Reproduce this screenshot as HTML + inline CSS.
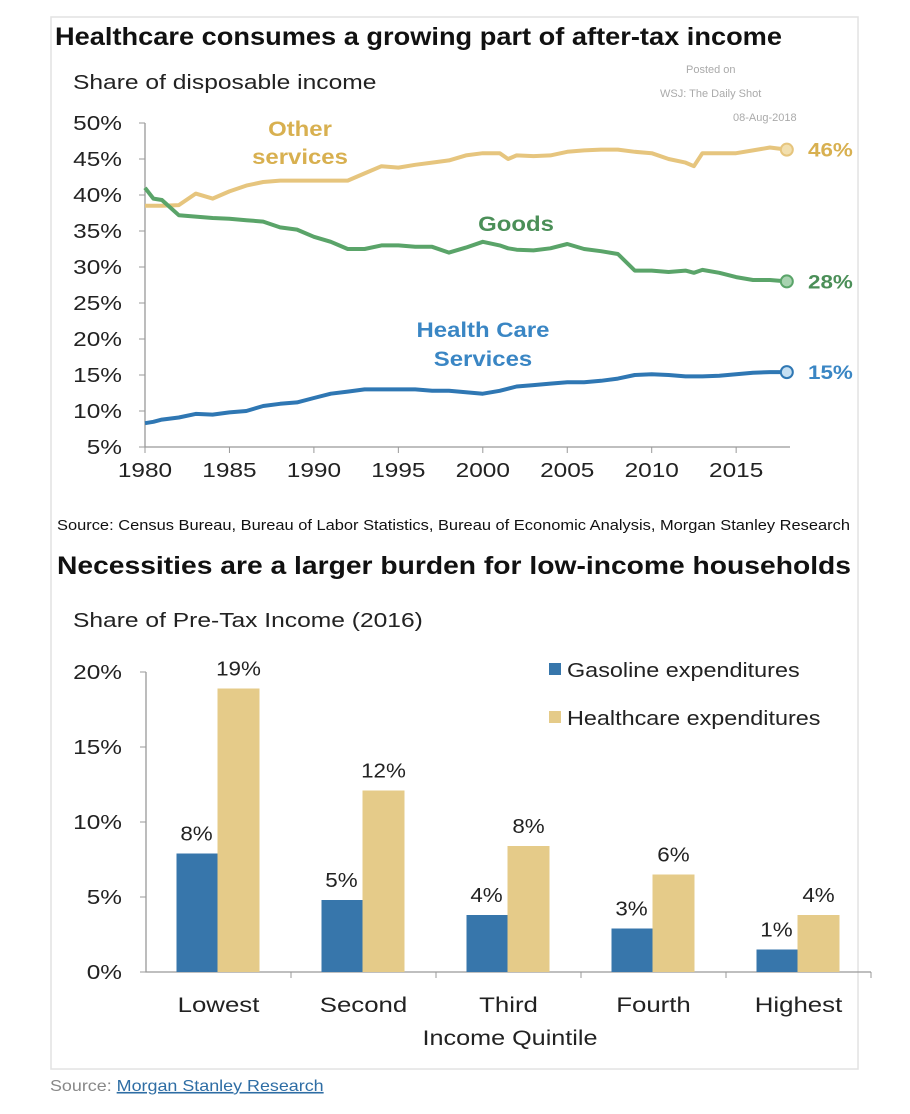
<!DOCTYPE html>
<html><head><meta charset="utf-8"><style>
html,body{margin:0;padding:0;background:#fff;width:910px;height:1114px;overflow:hidden}
svg{display:block;font-family:"Liberation Sans",Arial,sans-serif}
</style></head><body>
<svg id="s" width="910" height="1114" viewBox="0 0 910 1114">
<rect x="51" y="17" width="807" height="1052" fill="#fff" stroke="#e2e2e2" stroke-width="1.5"/>
<text x="55" y="45" font-size="25" font-weight="bold" fill="#111" textLength="727" lengthAdjust="spacingAndGlyphs">Healthcare consumes a growing part of after-tax income</text>
<text x="73" y="89" font-size="20" fill="#222" transform="translate(73,0) scale(1.23,1) translate(-73,0)">Share of disposable income</text>
<g font-size="11" fill="#aaa">
<text x="686" y="73">Posted on</text><text x="660" y="97">WSJ: The Daily Shot</text><text x="733" y="121">08-Aug-2018</text></g>
<g id="c1"></g>
<text x="57" y="530" font-size="15" fill="#111" textLength="793" lengthAdjust="spacingAndGlyphs">Source: Census Bureau, Bureau of Labor Statistics, Bureau of  Economic Analysis, Morgan Stanley Research</text>
<text x="57" y="574" font-size="25" font-weight="bold" fill="#111" textLength="794" lengthAdjust="spacingAndGlyphs">Necessities are a larger burden for low-income households</text>
<text x="73" y="627" font-size="20" fill="#222" transform="translate(73,0) scale(1.23,1) translate(-73,0)">Share of Pre-Tax Income (2016)</text>
<g id="c2"></g>
<text x="50" y="1091" font-size="16" fill="#888" transform="translate(50,0) scale(1.12,1) translate(-50,0)">Source: <tspan fill="#2e6da4" text-decoration="underline">Morgan Stanley Research</tspan></text>
</svg>
<script>
const years=[1980,1980.5,1981,1982,1983,1984,1985,1986,1987,1988,1989,1990,1991,1992,1993,1994,1995,1996,1997,1998,1999,2000,2001,2001.5,2002,2003,2004,2005,2006,2007,2008,2009,2010,2011,2012,2012.5,2013,2014,2015,2016,2017,2018];
const otherServices=[38.5,38.5,38.5,38.6,40.2,39.5,40.5,41.3,41.8,42,42,42,42,42,43,44,43.8,44.2,44.5,44.8,45.5,45.8,45.8,45,45.5,45.4,45.5,46,46.2,46.3,46.3,46,45.8,45,44.5,44,45.8,45.8,45.8,46.2,46.6,46.3];
const goods=[41,39.5,39.3,37.2,37,36.8,36.7,36.5,36.3,35.5,35.2,34.2,33.5,32.5,32.5,33,33,32.8,32.8,32,32.7,33.5,33,32.6,32.4,32.3,32.6,33.2,32.5,32.2,31.8,29.5,29.5,29.3,29.5,29.2,29.6,29.2,28.6,28.2,28.2,28];
const healthCare=[8.3,8.5,8.8,9.1,9.6,9.5,9.8,10,10.7,11,11.2,11.8,12.4,12.7,13,13,13,13,12.8,12.8,12.6,12.4,12.8,13.1,13.4,13.6,13.8,14,14,14.2,14.5,15,15.1,15,14.8,14.8,14.8,14.9,15.1,15.3,15.4,15.4];
const yTicks1=[5,10,15,20,25,30,35,40,45,50];
const xTicks1=[1980,1985,1990,1995,2000,2005,2010,2015];
const categories=["Lowest","Second","Third","Fourth","Highest"];
const gasoline=[7.9,4.8,3.8,2.9,1.5];
const healthcareExp=[18.9,12.1,8.4,6.5,3.8];
const gasLabels=["8%","5%","4%","3%","1%"];
const healthLabels=["19%","12%","8%","6%","4%"];
const yTicks2=[0,5,10,15,20];

const NS="http://www.w3.org/2000/svg";
function mk(p,t,a){const e=document.createElementNS(NS,t);for(const k in a)e.setAttribute(k,a[k]);p.appendChild(e);return e;}
function sx(e,x,k){e.setAttribute('transform',`translate(${x},0) scale(${k},1) translate(${-x},0)`);}
const c1=document.getElementById('c1');
const x1=y=>145+(y-1980)*16.89, y1=v=>447-(v-5)*7.2;
mk(c1,'path',{d:`M145 123V447H790`,stroke:'#999',fill:'none','stroke-width':1.3});
yTicks1.forEach(v=>{mk(c1,'line',{x1:139,x2:145,y1:y1(v),y2:y1(v),stroke:'#999'});
 const t=mk(c1,'text',{x:122,y:y1(v)+7,'font-size':20,fill:'#222','text-anchor':'end'});t.textContent=v+'%';sx(t,122,1.22);
 
 });
xTicks1.forEach(v=>{mk(c1,'line',{x1:x1(v),x2:x1(v),y1:447,y2:453,stroke:'#999'});
 const t=mk(c1,'text',{x:x1(v),y:477,'font-size':20,fill:'#222','text-anchor':'middle'});t.textContent=v;sx(t,x1(v),1.22);
 
 });
const series=[[otherServices,'#e6c57e','#f2dfae','#d8b050','46%','other-services-line'],[goods,'#5aa469','#a8d3b0','#4b8f58','28%','goods-line'],[healthCare,'#2f77b3','#c5dff2','#3a86c4','15%','health-care-line']];
series.forEach(s=>{const d=s[0].map((v,i)=>(i?'L':'M')+x1(years[i]).toFixed(1)+' '+y1(v).toFixed(1)).join('');
 const p=mk(c1,'path',{d,stroke:s[1],fill:'none','stroke-width':4,'stroke-linejoin':'round'});
 
 
 const last=s[0][s[0].length-1],lx=x1(years[years.length-1]);
 mk(c1,'circle',{cx:lx,cy:y1(last),r:6,fill:s[2],stroke:s[1],'stroke-width':2});
 const t=mk(c1,'text',{x:808,y:y1(last)+7,'font-size':19,'font-weight':'bold',fill:s[3]});t.textContent=s[4];sx(t,808,1.18);
 
 });
[[300,136,'Other','#d8b050'],[300,164,'services','#d8b050'],[516,231,'Goods','#4b8f58'],[483,337,'Health Care','#3a86c4'],[483,366,'Services','#3a86c4']].forEach(a=>{
 const t=mk(c1,'text',{x:a[0],y:a[1],'font-size':21,'font-weight':'bold',fill:a[3],'text-anchor':'middle'});t.textContent=a[2];sx(t,a[0],1.14);
 
 });

const c2=document.getElementById('c2');
const y2=v=>972-v*15, bw=145;
mk(c2,'path',{d:'M146 672V972H871',stroke:'#999',fill:'none','stroke-width':1.3});
yTicks2.forEach(v=>{mk(c2,'line',{x1:140,x2:146,y1:y2(v),y2:y2(v),stroke:'#999'});
 const t=mk(c2,'text',{x:122,y:y2(v)+7,'font-size':20,fill:'#222','text-anchor':'end'});t.textContent=v+'%';sx(t,122,1.22);
 
 });
categories.forEach((c,i)=>{const x0=146+i*bw,cx=x0+bw/2;
 mk(c2,'line',{x1:x0+bw,x2:x0+bw,y1:972,y2:978,stroke:'#999'});
 const g=mk(c2,'rect',{x:cx-42,y:y2(gasoline[i]),width:41,height:gasoline[i]*15,fill:'#3776ab'});
 
 
 const h=mk(c2,'rect',{x:cx-1,y:y2(healthcareExp[i]),width:42,height:healthcareExp[i]*15,fill:'#e5cb89'});
 
 
 const l1=mk(c2,'text',{x:cx-22,y:y2(gasoline[i])-13,'font-size':20,fill:'#222','text-anchor':'middle'});l1.textContent=gasLabels[i];sx(l1,cx-22,1.12);
 
 
 const l2=mk(c2,'text',{x:cx+20,y:y2(healthcareExp[i])-13,'font-size':20,fill:'#222','text-anchor':'middle'});l2.textContent=healthLabels[i];sx(l2,cx+20,1.12);
 
 
 const t=mk(c2,'text',{x:cx,y:1012,'font-size':21,fill:'#222','text-anchor':'middle'});t.textContent=c;sx(t,cx,1.23);
 
 });
const xt=mk(c2,'text',{x:510,y:1045,'font-size':21,fill:'#222','text-anchor':'middle'});xt.textContent='Income Quintile';sx(xt,510,1.2);


[['#3776ab','Gasoline expenditures',670],['#e5cb89','Healthcare expenditures',718]].forEach(l=>{
 const r=mk(c2,'rect',{x:549,y:l[2]-7,width:12,height:12,fill:l[0]});
 
 
 const t=mk(c2,'text',{x:567,y:l[2]+7,'font-size':20,fill:'#222'});t.textContent=l[1];sx(t,567,1.17);
 
 });
</script>
</body></html>
